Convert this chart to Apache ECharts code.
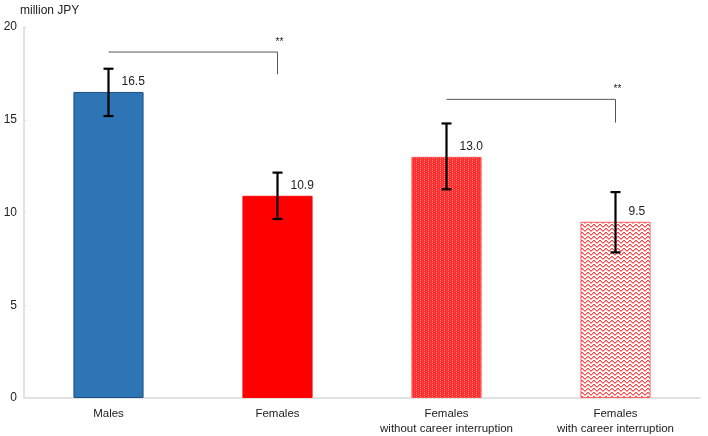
<!DOCTYPE html>
<html>
<head>
<meta charset="utf-8">
<script src="https://cdn.jsdelivr.net/npm/echarts@6/dist/echarts.min.js"></script>
<style>html,body{margin:0;padding:0;background:#fff}#c{width:708px;height:436px}</style>
</head>
<body>
<div id="c"></div>
<script>
const categories = ['Males', 'Females', 'Females\nwithout career interruption', 'Females\nwith career interruption'];
const means = [16.5, 10.9, 13.0, 9.5];
const errLow = [15.2, 9.65, 11.25, 7.85];
const errHigh = [17.75, 12.15, 14.8, 11.1];
// significance brackets: [fromIndex, toIndex, lineValue, dropValue]
const brackets = [[0, 1, 18.65, 17.45], [2, 3, 16.1, 14.85]];
const sigLabels = ['**', '**'];
const yTicks = [0, 5, 10, 15, 20];

function makePattern(kind) {
  const c = document.createElement('canvas');
  if (kind === 'dots') {
    c.width = 4; c.height = 4;
    const g = c.getContext('2d');
    g.fillStyle = '#ff2b2b'; g.fillRect(0, 0, 4, 4);
    g.fillStyle = '#ff8a8a';
    g.fillRect(0, 0, 1, 1); g.fillRect(0, 2, 1, 1);
    g.fillStyle = '#ff5a5a';
    g.fillRect(2, 1, 1, 1); g.fillRect(2, 3, 1, 1);
  } else {
    c.width = 6; c.height = 4;
    const g = c.getContext('2d');
    g.fillStyle = '#ffffff'; g.fillRect(0, 0, 6, 4);
    const ys = [0, 1, 2, 2, 1, 0];
    for (let x = 0; x < 6; x++) {
      g.fillStyle = '#ff4848'; g.fillRect(x, ys[x], 1, 1);
      g.fillStyle = '#ffaaaa'; g.fillRect(x, (ys[x] + 1) % 4, 1, 1);
    }
  }
  return { image: c, repeat: 'repeat' };
}

const barStyles = [
  { color: '#2e75b6', borderColor: '#1f4f80', borderWidth: 1 },
  { color: '#ff0000', borderColor: '#ff0000', borderWidth: 1 },
  { color: makePattern('dots'), borderColor: '#ff5050', borderWidth: 1 },
  { color: makePattern('zigzag'), borderColor: '#ff6060', borderWidth: 1 }
];

const chart = echarts.init(document.getElementById('c'));
const font = 'Liberation Sans, Arial, Helvetica, sans-serif';

chart.setOption({
  animation: false,
  textStyle: { fontFamily: font },
  grid: { left: 24, right: 8, top: 27, bottom: 36, containLabel: false },
  xAxis: {
    type: 'category',
    data: categories,
    axisLine: { lineStyle: { color: '#d9d9d9', width: 1.5 } },
    axisTick: { show: false },
    axisLabel: { color: '#222', fontSize: 11.5, lineHeight: 15, margin: 8, interval: 0, fontFamily: font }
  },
  yAxis: {
    type: 'value', min: 0, max: 20, interval: 5,
    name: 'million JPY',
    nameLocation: 'end',
    nameGap: 10,
    nameTextStyle: { color: '#222', fontSize: 12, align: 'left', padding: [0, 0, 0, -4], fontFamily: font },
    axisLine: { show: true, lineStyle: { color: '#d9d9d9', width: 1.5 } },
    axisTick: { show: true, inside: true, length: 3, lineStyle: { color: '#e6e6e6' } },
    splitLine: { show: false },
    axisLabel: { color: '#222', fontSize: 12, margin: 7, fontFamily: font,
      formatter: v => yTicks.includes(v) ? String(v) : '' }
  },
  series: [
    {
      type: 'bar',
      barWidth: '41.5%',
      data: means.map((v, i) => ({ value: v, itemStyle: barStyles[i] })),
      label: {
        show: true,
        position: ['50%', 0],
        offset: [13, -10],
        align: 'left',
        verticalAlign: 'middle',
        color: '#222',
        fontSize: 12,
        fontFamily: font,
        formatter: p => p.value.toFixed(1)
      },
      z: 2
    },
    {
      type: 'custom',
      z: 5,
      data: means.map((v, i) => [i, errLow[i], errHigh[i]]),
      renderItem: function (params, api) {
        const x = api.value(0);
        const lo = api.coord([x, api.value(1)]);
        const hi = api.coord([x, api.value(2)]);
        const w = 5;
        const st = { stroke: '#000', lineWidth: 2.2 };
        return {
          type: 'group',
          children: [
            { type: 'line', shape: { x1: lo[0], y1: lo[1], x2: hi[0], y2: hi[1] }, style: st },
            { type: 'line', shape: { x1: lo[0] - w, y1: lo[1], x2: lo[0] + w, y2: lo[1] }, style: st },
            { type: 'line', shape: { x1: hi[0] - w, y1: hi[1], x2: hi[0] + w, y2: hi[1] }, style: st }
          ]
        };
      }
    },
    {
      type: 'custom',
      z: 6,
      data: brackets.map((b, i) => [b[0], b[1], b[2], b[3], i]),
      renderItem: function (params, api) {
        const a = api.coord([api.value(0), api.value(2)]);
        const b = api.coord([api.value(1), api.value(2)]);
        const d = api.coord([api.value(1), api.value(3)]);
        const idx = api.value(4);
        return {
          type: 'group',
          children: [
            { type: 'polyline', shape: { points: [[a[0], a[1]], [b[0], b[1]], [d[0], d[1]]] },
              style: { stroke: '#555', lineWidth: 1, fill: null } },
            { type: 'text', x: b[0] + 2, y: b[1] - 10,
              style: { text: sigLabels[idx], fill: '#222', fontSize: 10, fontFamily: font,
                align: 'center', verticalAlign: 'middle' } }
          ]
        };
      }
    }
  ]
});
</script>
</body>
</html>
